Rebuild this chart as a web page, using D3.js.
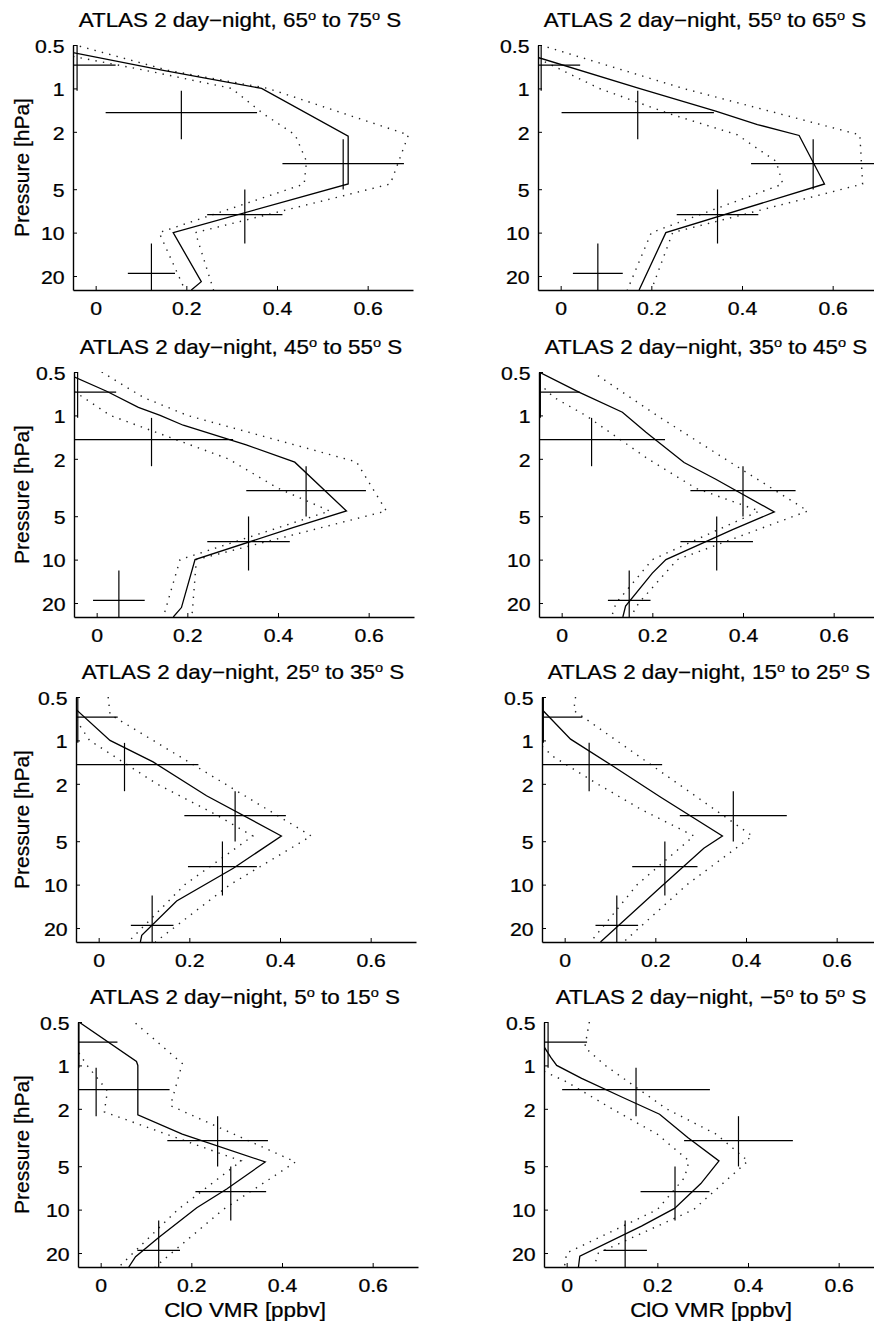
<!DOCTYPE html>
<html>
<head>
<meta charset="utf-8">
<title>ATLAS 2 day-night ClO profiles</title>
<script src="https://cdn.jsdelivr.net/npm/d3@7"></script>
<style>
  body { margin: 0; background: #fff; }
  svg { display: block; font-family: "Liberation Sans", Arial, Helvetica, sans-serif; }
  svg text { fill: #000; stroke: #000; stroke-width: 0.25; }
  .profile { fill: none; stroke: #000; stroke-width: 1.3; }
  .bound { fill: none; stroke: #222; stroke-width: 1.4; stroke-dasharray: 1.4 6.2; }
  .cross { stroke: #000; stroke-width: 1.2; }
  .axis .domain { stroke: #000; stroke-width: 1.4; }
  .axis line { stroke: #000; stroke-width: 1; }
</style>
</head>
<body>
<svg id="chart" width="874" height="1325"></svg>
<script>
// latitude bands, one per panel
const latFrom = ["65", "55", "45", "35", "25", "15", "5", "\u22125"];
const latTo = ["75", "65", "55", "45", "35", "25", "15", "5"];

// ticks
const xTicks = [0, 0.2, 0.4, 0.6];
const xTickLabels = ["0", "0.2", "0.4", "0.6"];
const yTicks = [0.5, 1, 2, 5, 10, 20];
const yTickLabels = ["0.5", "1", "2", "5", "10", "20"];

// ATLAS layers [hPa]
const layerP = [0.69, 1.47, 3.32, 7.5, 19.2];
const layerTop = [0.47, 1.04, 2.25, 5.02, 11.9];
const layerBottom = [1.04, 2.25, 5.02, 11.9, 27];

// ATLAS day-night ClO [ppbv] and error, per panel
const atlasVal = [
  [-0.041, 0.189, 0.546, 0.329, 0.123],
  [-0.043, 0.170, 0.557, 0.346, 0.082],
  [-0.042, 0.121, 0.462, 0.335, 0.049],
  [-0.047, 0.066, 0.400, 0.342, 0.149],
  [-0.046, 0.057, 0.301, 0.273, 0.118],
  [-0.047, 0.054, 0.372, 0.221, 0.115],
  [-0.048, -0.010, 0.258, 0.287, 0.128],
  [-0.041, 0.153, 0.379, 0.239, 0.129]
];
const atlasErr = [
  [0.085, 0.167, 0.134, 0.083, 0.052],
  [0.086, 0.168, 0.137, 0.090, 0.055],
  [0.085, 0.180, 0.132, 0.091, 0.057],
  [0.087, 0.162, 0.116, 0.080, 0.047],
  [0.088, 0.163, 0.112, 0.076, 0.047],
  [0.086, 0.161, 0.118, 0.072, 0.047],
  [0.085, 0.162, 0.111, 0.078, 0.047],
  [0.086, 0.163, 0.120, 0.076, 0.048]
];

// model profile [hPa, ppbv], per panel
const profile = [
  [[0.565, -0.05], [0.75, 0.149], [0.855, 0.248], [1.0, 0.366], [2.14, 0.557], [4.6, 0.557], [10, 0.171], [21.9, 0.233], [25, 0.211]],
  [[0.61, -0.05], [1.0, 0.173], [1.44, 0.342], [1.78, 0.434], [2.12, 0.526], [4.6, 0.582], [10, 0.232], [25, 0.173]],
  [[0.54, -0.05], [0.68, 0.022], [0.88, 0.092], [1.0, 0.14], [1.17, 0.191], [1.6, 0.33], [2.11, 0.437], [4.6, 0.551], [6.0, 0.433], [10, 0.217], [21.5, 0.187], [25, 0.169]],
  [[0.5, -0.05], [0.69, 0.038], [0.95, 0.134], [1.31, 0.186], [2.12, 0.27], [2.77, 0.34], [4.67, 0.469], [6.2, 0.377], [10, 0.23], [12.4, 0.2], [21, 0.141], [25, 0.135]],
  [[0.61, -0.05], [1.0, 0.025], [1.41, 0.12], [2.42, 0.238], [4.6, 0.403], [7.7, 0.297], [13, 0.172], [22.5, 0.095], [25, 0.092]],
  [[0.61, -0.05], [0.98, 0.013], [1.47, 0.101], [2.48, 0.212], [4.6, 0.348], [5.6, 0.307], [10.4, 0.212], [25, 0.079]],
  [[0.5, -0.048], [0.94, 0.079], [1.0, 0.082], [2.2, 0.082], [3.0, 0.18], [4.67, 0.363], [7.2, 0.278], [9.7, 0.212], [15.6, 0.128], [21.2, 0.077], [25, 0.062]],
  [[0.75, -0.049], [0.88, -0.035], [1.0, -0.022], [1.23, 0.033], [1.67, 0.124], [2.18, 0.205], [3.16, 0.267], [4.6, 0.336], [6.6, 0.296], [9.8, 0.238], [13, 0.165], [21, 0.029], [25, 0.026]]
];

// upper bound of profile [hPa, ppbv]
const profileHi = [
  [[0.51, -0.035], [0.75, 0.16], [1.0, 0.38], [2.1, 0.69], [4.6, 0.65], [10, 0.22], [25, 0.26]],
  [[0.5, -0.045], [1.0, 0.27], [2.1, 0.66], [4.6, 0.666], [10, 0.247], [25, 0.20]],
  [[0.5, 0.011], [0.75, 0.103], [1.0, 0.2], [2.1, 0.573], [4.6, 0.639], [10, 0.22], [25, 0.21]],
  [[0.53, 0.08], [1.0, 0.21], [2.0, 0.36], [4.6, 0.543], [10, 0.255], [20, 0.17], [25, 0.152]],
  [[0.5, 0.021], [0.66, 0.025], [4.6, 0.469], [10, 0.29], [25, 0.125]],
  [[0.5, 0.024], [0.62, 0.02], [4.6, 0.414], [10, 0.27], [25, 0.13]],
  [[0.51, 0.077], [0.97, 0.18], [1.9, 0.154], [4.67, 0.43], [10, 0.27], [25, 0.12]],
  [[0.5, 0.05], [0.75, 0.04], [1.0, 0.085], [2.0, 0.22], [3.0, 0.33], [4.6, 0.40], [10, 0.28], [20, 0.07], [25, 0.06]]
];

// lower bound of profile [hPa, ppbv]
const profileLo = [
  [[0.6, -0.05], [0.75, 0.11], [1.0, 0.30], [1.5, 0.37], [2.1, 0.44], [3.2, 0.465], [4.6, 0.46], [10, 0.14], [25, 0.197]],
  [[0.62, -0.05], [1.0, 0.085], [1.5, 0.24], [2.1, 0.39], [3.2, 0.475], [4.6, 0.49], [10, 0.2], [25, 0.147]],
  [[0.68, -0.05], [1.0, 0.03], [2.0, 0.29], [3.2, 0.4], [4.6, 0.514], [10, 0.184], [25, 0.147]],
  [[0.6, -0.05], [0.75, -0.017], [1.0, 0.053], [2.0, 0.19], [3.2, 0.296], [4.6, 0.436], [10, 0.2], [20, 0.12], [25, 0.11]],
  [[0.72, -0.05], [1.0, -0.02], [2.0, 0.128], [3.2, 0.253], [4.6, 0.34], [10, 0.19], [25, 0.065]],
  [[1.1, -0.05], [1.3, -0.024], [2.0, 0.072], [3.0, 0.168], [4.6, 0.285], [10, 0.16], [25, 0.057]],
  [[0.82, -0.048], [1.0, -0.03], [1.5, 0.015], [2.1, 0.008], [4.6, 0.31], [10, 0.17], [25, 0.04]],
  [[1.1, -0.05], [1.3, 0.0], [2.0, 0.1], [3.0, 0.2], [4.6, 0.27], [6, 0.26], [10, 0.2], [20, 0.0], [25, -0.005]]
];

// layout
const panelW = 340, panelH = 245;
const rowTop = [45, 372, 697, 1022];
const colLeft = [[73, 538], [74, 539], [76, 542], [78, 544]];
const stretch = 1.12; // the figure's text is a little wider than the font

const svg = d3.select("#chart");

latFrom.forEach(function(lat, i) {
  const row = Math.floor(i / 2), col = i % 2;
  const left = colLeft[row][col], top = rowTop[row];

  const x = d3.scaleLinear().domain([-0.05, 0.7]).range([left, left + panelW]);
  const y = d3.scaleLog().domain([0.5, 25]).range([top, top + panelH]);

  const g = svg.append("g").attr("class", "panel");
  g.append("clipPath").attr("id", "clip" + i)
    .append("rect")
      .attr("x", left).attr("y", top)
      .attr("width", panelW).attr("height", panelH);
  const plot = g.append("g").attr("clip-path", "url(#clip" + i + ")");

  // profile and bounds
  const line = d3.line()
    .x(function(d) { return x(d[1]); })
    .y(function(d) { return y(d[0]); });
  plot.append("path").attr("class", "bound").attr("d", line(profileHi[i]));
  plot.append("path").attr("class", "bound").attr("d", line(profileLo[i]));
  plot.append("path").attr("class", "profile").attr("d", line(profile[i]));

  // ATLAS crosses
  layerP.forEach(function(p, j) {
    const v = atlasVal[i][j], e = atlasErr[i][j];
    plot.append("line").attr("class", "cross")
      .attr("x1", x(v - e)).attr("x2", x(v + e))
      .attr("y1", y(p)).attr("y2", y(p));
    plot.append("line").attr("class", "cross")
      .attr("x1", x(v)).attr("x2", x(v))
      .attr("y1", y(layerTop[j])).attr("y2", y(layerBottom[j]));
  });

  // axes, ticks point inwards
  const yAxis = d3.axisLeft(y)
    .tickValues(yTicks)
    .tickFormat(function(d, k) { return yTickLabels[k]; })
    .tickSizeInner(-4)
    .tickSizeOuter(0)
    .tickPadding(7.5);
  const xAxis = d3.axisBottom(x)
    .tickValues(xTicks)
    .tickFormat(function(d, k) { return xTickLabels[k]; })
    .tickSizeInner(-4)
    .tickSizeOuter(0)
    .tickPadding(11.5);
  const yg = g.append("g").attr("class", "axis")
    .attr("transform", "translate(" + left + ",0)")
    .call(yAxis);
  const xg = g.append("g").attr("class", "axis")
    .attr("transform", "translate(0," + (top + panelH) + ")")
    .call(xAxis);
  [yg, xg].forEach(function(a) {
    a.attr("font-family", null).attr("font-size", 19);
    a.selectAll("text").attr("transform", "scale(" + stretch + ",1)");
  });
  yg.selectAll("text").attr("dy", "0.38em");

  // title
  const title = g.append("text")
    .attr("text-anchor", "middle")
    .attr("font-size", 20)
    .attr("transform", "translate(" + (left + 167) + "," + (top - 18) + ") scale(" + stretch + ",1)");
  title.append("tspan").text("ATLAS 2 day\u2212night, " + lat);
  title.append("tspan").attr("dy", -7).attr("font-size", 13).text("o");
  title.append("tspan").attr("dy", 7).text(" to " + latTo[i]);
  title.append("tspan").attr("dy", -7).attr("font-size", 13).text("o");
  title.append("tspan").attr("dy", 7).text(" S");

  if (col == 0) {
    g.append("text")
      .attr("text-anchor", "middle")
      .attr("font-size", 21)
      .attr("transform", "translate(29," + (top + panelH / 2) + ") rotate(-90)")
      .text("Pressure [hPa]");
  }
  if (row == 3) {
    g.append("text")
      .attr("text-anchor", "middle")
      .attr("font-size", 20)
      .attr("transform", "translate(" + (left + 167) + ",1317) scale(" + stretch + ",1)")
      .text("ClO VMR [ppbv]");
  }
});
</script>
</body>
</html>
